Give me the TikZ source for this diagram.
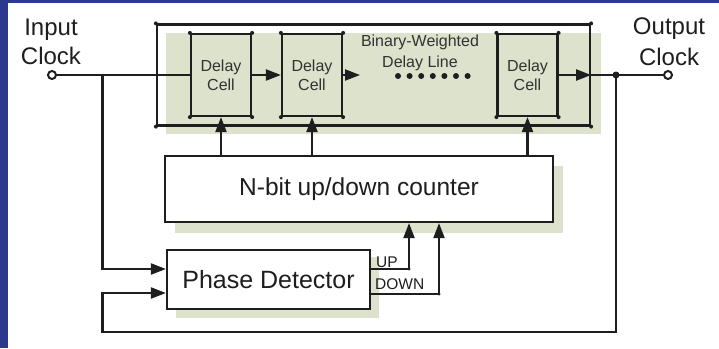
\documentclass[tikz,border=0pt]{standalone}
\usepackage{fontspec}
\setmainfont{Liberation Sans}
\usetikzlibrary{arrows.meta,calc,backgrounds}
\definecolor{slideblue}{RGB}{45,57,143}
\definecolor{panelgreen}{RGB}{220,226,204}
\definecolor{ink}{RGB}{30,30,30}
\definecolor{softink}{RGB}{50,50,50}
\begin{document}
\begin{tikzpicture}[x=1pt,y=-1pt,
  wire/.style={line width=2.2pt, draw=ink},
  arr/.style={wire, -{Triangle[length=15pt,width=11pt]}},
  cellbox/.style={wire, fill=panelgreen, minimum width=60pt, minimum height=82pt,
    align=center, inner sep=0pt, text=softink, font=\fontsize{16}{19}\selectfont},
  blockbox/.style={wire, fill=white, inner sep=0pt, text=ink},
  lbl/.style={inner sep=0pt, text=ink, align=center},
  port/.style={circle, draw=ink, line width=2pt, fill=white, minimum size=8pt, inner sep=0pt},
  dot/.style={fill=ink}
]
\useasboundingbox (0,0) rectangle (719,348);

% delay line frame and cells
\node[wire, minimum width=433pt, minimum height=101pt, inner sep=0pt] (frame) at (373.5,75) {};
\node[cellbox] (c1) at (221,75) {Delay\\Cell};
\node[cellbox] (c2) at (312,75) {Delay\\Cell};
\node[cellbox] (c3) at (527.5,75) {Delay\\Cell};
\node[lbl, anchor=north, text=softink, font=\fontsize{16}{21}\selectfont] (dllab) at (420,35) {Binary-Weighted\\Delay Line};

% counter and phase detector
\node[blockbox, minimum width=388pt, minimum height=66pt, font=\fontsize{24.5}{26}\selectfont] (counter) at (359,189) {N-bit up/down counter};
\node[blockbox, minimum width=203pt, minimum height=59pt, font=\fontsize{25}{27}\selectfont] (pd) at (268.5,279.5) {Phase Detector};

% ports and labels
\node[port] (in) at (52,75) {};
\node[port] (out) at (668,75) {};
\node[lbl, anchor=north, font=\fontsize{24}{29}\selectfont] (inlab) at (51,19) {Input\\Clock};
\node[lbl, anchor=north, font=\fontsize{24}{31}\selectfont] (outlab) at (669,18) {Output\\Clock};
\node[lbl, anchor=base west, font=\fontsize{15.5}{17}\selectfont] (uplab) at (376,267) {UP};
\node[lbl, anchor=base west, font=\fontsize{15.5}{17}\selectfont] (dnlab) at (375,289) {DOWN};

% coordinates
\coordinate (br) at (102.5,75);
\coordinate (j) at (616,75);
\coordinate (dl) at (360,75);
\coordinate (fbb) at (616,332);
\coordinate (fbl) at (102.5,332);
\coordinate (fbu) at (102.5,293);
\coordinate (upturn) at (409,269);
\coordinate (dnturn) at (439,294);

% main signal path
\draw[wire] (in) -- (c1.west);
\draw[arr] (c1.east) -- (c2.west);
\draw[arr] (c2.east) -- (dl);
\foreach \i in {0,...,6} \fill[dot] ({398+\i*11.6},76) circle (3pt);
\draw[arr] (c3.east) -- (frame.east);
\draw[wire] (frame.east) -- (out);
\fill[dot] (j) circle (3.5pt);

% counter to cells
\draw[arr] (c1 |- counter.north) -- (c1.south);
\draw[arr] (c2 |- counter.north) -- (c2.south);
\draw[arr] (c3 |- counter.north) -- (c3.south);

% phase detector inputs
\draw[arr] (br) |- ($(pd.west)+(0,-10.5)$);
\draw[arr] (j) -- (fbb) -- (fbl) -- (fbu) -- (fbu -| pd.west);

% up / down
\draw[arr] (pd.east |- upturn) -- (upturn) -- (upturn |- counter.south);
\draw[arr] (pd.east |- dnturn) -- (dnturn) -- (dnturn |- counter.south);

% corner dots
\foreach \n in {c1,c2,c3,frame}
  \foreach \a in {north west,north east,south west,south east}
    \fill[dot] (\n.\a) circle (2pt);
\fill[dot] (upturn) circle (1.6pt);
\fill[dot] (dnturn) circle (1.6pt);

\begin{scope}[on background layer]
  \fill[white] (0,0) rectangle (719,348);
  \fill[slideblue] (0,0) rectangle (8,348);
  \fill[slideblue] (0,0) rectangle (719,3);
  \fill[panelgreen] ($(frame.north west)+(10,10)$) rectangle ($(frame.south east)+(10,7.5)$);
  \fill[panelgreen] ($(counter.north west)+(11,11)$) rectangle ($(counter.south east)+(9,10)$);
  \fill[panelgreen] ($(pd.north west)+(10,8)$) rectangle ($(pd.south east)+(8,8)$);
\end{scope}
\end{tikzpicture}
\end{document}
